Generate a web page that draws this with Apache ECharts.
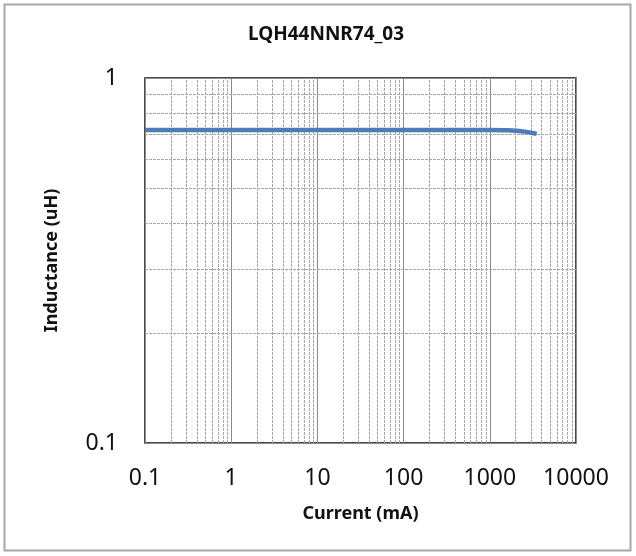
<!DOCTYPE html>
<html>
<head>
<meta charset="utf-8">
<script src="https://cdn.jsdelivr.net/npm/echarts@6/dist/echarts.min.js"></script>
<style>
html,body{margin:0;padding:0;background:#fff;}
#c{width:636px;height:556px;}
</style>
</head>
<body>
<div id="c"></div>
<script>
var titleText = 'LQH44NNR74_03';
var xName = 'Current (mA)';
var yName = 'Inductance (uH)';
var currentMA = [0.1, 1, 10, 100, 1000, 1500, 2000, 2500, 3000, 3500];
var inductanceUH = [0.72, 0.72, 0.72, 0.72, 0.72, 0.719, 0.717, 0.713, 0.708, 0.703];
var xTickLabels = ['0.1', '1', '10', '100', '1000', '10000'];
var yTickLabels = ['0.1', '1'];
var minorMultipliers = [2, 3, 4, 5, 6, 7, 8, 9];
var xDecades = [0.1, 1, 10, 100, 1000];
var yDecades = [0.1];

var xMinor = [];
xDecades.forEach(function (d) { minorMultipliers.forEach(function (m) { xMinor.push(+(d * m).toPrecision(3)); }); });
var yMinor = [];
yDecades.forEach(function (d) { minorMultipliers.forEach(function (m) { yMinor.push(+(d * m).toPrecision(3)); }); });

var pts = currentMA.map(function (x, i) { return [x, inductanceUH[i]]; });

var font = 'Noto Sans';
var chart = echarts.init(document.getElementById('c'));
chart.setOption({
  animation: false,
  backgroundColor: '#fff',
  title: {
    text: titleText, left: 321, top: 20, textAlign: 'center',
    textStyle: { fontFamily: font, fontSize: 19, fontWeight: 'bold', color: '#111' }
  },
  graphic: [{
    type: 'rect', shape: { x: 4.5, y: 4.5, width: 626, height: 546 },
    style: { fill: 'none', stroke: '#a6a6a6', lineWidth: 2 }, silent: true, z: 100
  }],
  grid: { left: 145, right: 60, top: 78, bottom: 113, show: true, borderColor: '#111', borderWidth: 1.5, backgroundColor: '#fff' },
  xAxis: {
    type: 'log', logBase: 10, min: 0.1, max: 10000,
    name: xName, nameLocation: 'middle', nameGap: 62,
    nameTextStyle: { fontFamily: font, fontSize: 18, fontWeight: 'bold', color: '#111' },
    axisLine: { show: true, lineStyle: { color: '#8c8c8c', width: 1 } },
    axisTick: { show: false },
    axisLabel: {
      fontFamily: font, fontSize: 23, color: '#111', margin: 24,
      formatter: function (v) { var s = String(+v.toPrecision(3)); return xTickLabels.indexOf(s) >= 0 ? s : ''; }
    },
    splitLine: { show: true, lineStyle: { color: '#8c8c8c', width: 1 } }
  },
  yAxis: {
    type: 'log', logBase: 10, min: 0.1, max: 1,
    name: yName, nameLocation: 'middle', nameGap: 84, nameRotate: 90,
    nameTextStyle: { fontFamily: font, fontSize: 18, fontWeight: 'bold', color: '#111' },
    axisLine: { show: true, lineStyle: { color: '#8c8c8c', width: 1 } },
    axisTick: { show: false },
    axisLabel: {
      fontFamily: font, fontSize: 23, color: '#111', margin: 27,
      formatter: function (v) { var s = String(+v.toPrecision(3)); return yTickLabels.indexOf(s) >= 0 ? s : ''; }
    },
    splitLine: { show: true, lineStyle: { color: '#8c8c8c', width: 1 } }
  },
  series: [{
    type: 'line', data: [], silent: true,
    markLine: {
      silent: true, symbol: 'none', animation: false,
      label: { show: false },
      lineStyle: { color: '#a8a8a8', type: [3, 1], width: 1 },
      data: xMinor.map(function (v) { return { xAxis: v }; }).concat(yMinor.map(function (v) { return { yAxis: v }; }))
    }
  }, {
    type: 'line', data: pts, smooth: true, showSymbol: false, symbol: 'none',
    lineStyle: { color: '#4a7ebb', width: 4.5 }, z: 5
  }]
});
</script>
</body>
</html>
